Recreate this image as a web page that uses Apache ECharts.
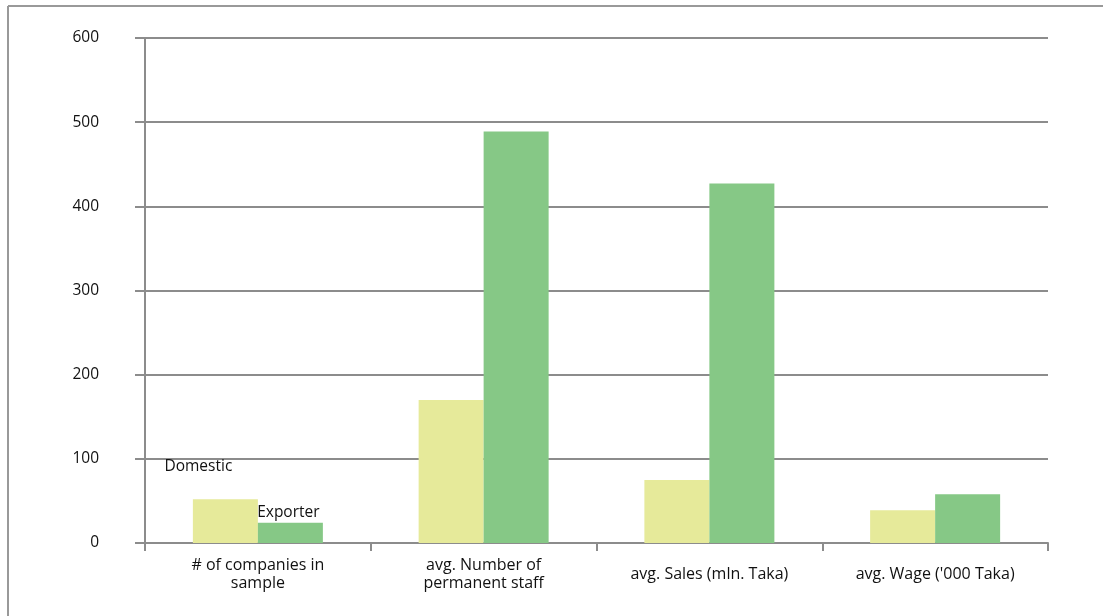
<!DOCTYPE html>
<html>
<head>
<meta charset="utf-8">
<script src="https://cdn.jsdelivr.net/npm/echarts@6/dist/echarts.min.js"></script>
<style>html,body{margin:0;padding:0;background:#fff}#c{width:1103px;height:616px}</style>
</head>
<body>
<div id="c"></div>
<script>
var categories = ["# of companies in\nsample", "avg. Number of\npermanent staff", "avg. Sales (mln. Taka)", "avg. Wage ('000 Taka)"];
var domestic = [52, 170, 75, 39];
var exporter = [24, 489, 427, 58];
var seriesNames = ["Domestic", "Exporter"];

var FONT = "Open Sans";
var chart = echarts.init(document.getElementById('c'), null, {renderer: 'canvas'});
var axisGray = '#8c8c8c';
chart.setOption({
  animation: false,
  backgroundColor: '#fff',
  textStyle: {fontFamily: FONT},
  graphic: [
    {type: 'line', shape: {x1: 8, y1: 6, x2: 1103, y2: 6}, style: {stroke: '#999', lineWidth: 2}},
    {type: 'line', shape: {x1: 8, y1: 6, x2: 8, y2: 616}, style: {stroke: '#999', lineWidth: 2}}
  ],
  grid: {left: 145, right: 55, top: 38, bottom: 73, containLabel: false},
  xAxis: {
    type: 'category',
    data: categories,
    axisLine: {lineStyle: {color: axisGray, width: 2}},
    axisTick: {show: true, length: 8, lineStyle: {color: axisGray, width: 2}},
    axisLabel: {color: '#111', fontFamily: FONT, fontSize: 16, lineHeight: 18, verticalAlign: 'middle', margin: 31, interval: 0}
  },
  yAxis: {
    type: 'value', min: 0, max: 600, interval: 100,
    axisLine: {show: true, lineStyle: {color: axisGray, width: 2}},
    axisTick: {show: true, length: 10, lineStyle: {color: axisGray, width: 2}},
    splitLine: {lineStyle: {color: axisGray, width: 2}},
    axisLabel: {color: '#111', fontFamily: FONT, fontSize: 15.5, margin: 46, padding: [6, 0, 0, 0]}
  },
  series: [
    {
      name: seriesNames[0], type: 'bar', barWidth: 65, barGap: '0%',
      itemStyle: {color: '#e6ea9a'},
      data: domestic.map(function (v, i) {
        return i === 0 ? {value: v, label: {show: true, position: 'top', offset: [-27, -20], formatter: seriesNames[0], color: '#111', fontSize: 15.5, fontFamily: FONT}} : v;
      })
    },
    {
      name: seriesNames[1], type: 'bar', barWidth: 65, barGap: '0%',
      itemStyle: {color: '#86c886'},
      data: exporter.map(function (v, i) {
        return i === 0 ? {value: v, label: {show: true, position: 'top', offset: [-2, 3], formatter: seriesNames[1], color: '#111', fontSize: 15.5, fontFamily: FONT}} : v;
      })
    }
  ]
});
</script>
</body>
</html>
